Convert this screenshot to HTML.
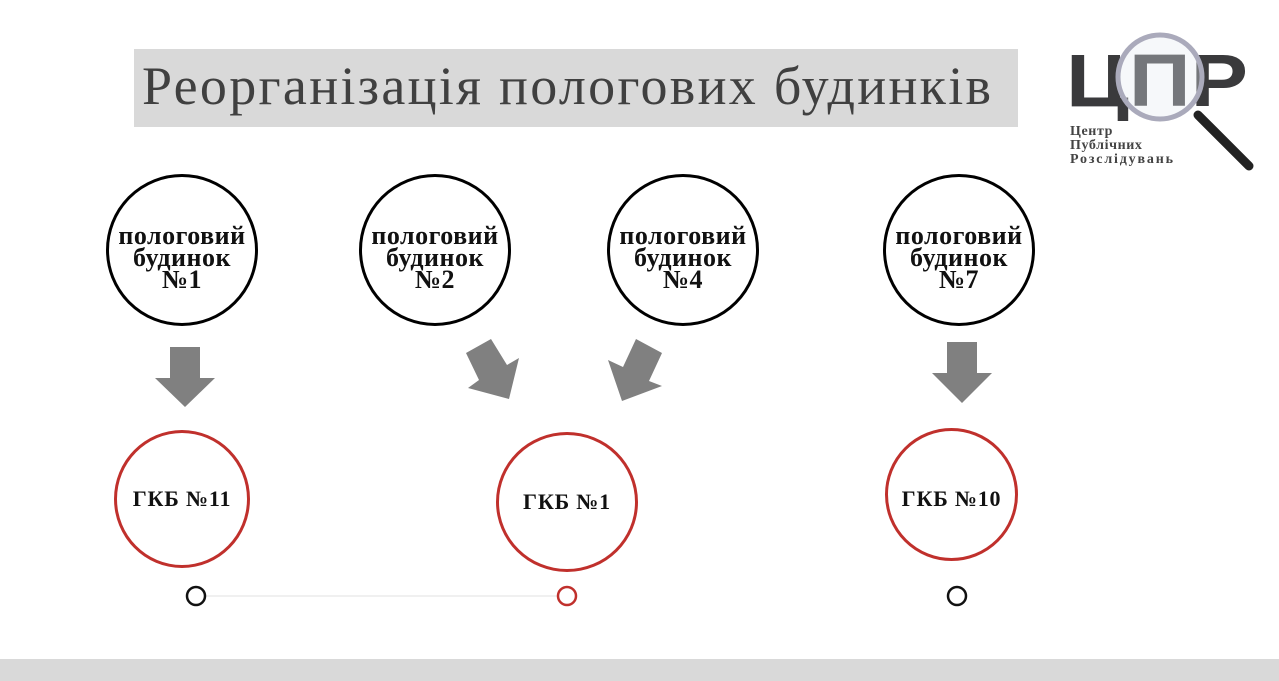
<!DOCTYPE html>
<html><head><meta charset="utf-8"><style>
body{margin:0;width:1279px;height:681px;background:#fff;position:relative;overflow:hidden;font-family:"Liberation Serif",serif}
.t{position:absolute;left:134px;top:49px;width:884px;height:78px;background:#d9d9d9}
.t span{position:absolute;left:8px;top:6px;font-size:54px;color:#404040;white-space:nowrap;letter-spacing:2.3px}
.c{position:absolute;border-radius:50%;box-sizing:border-box;display:flex;align-items:center;justify-content:center;text-align:center;font-weight:bold;color:#111}
.b{border:3px solid #000;width:152px;height:152px;font-size:26px;line-height:22px;letter-spacing:0.5px;padding-top:16px}
.r{border:3px solid #c0302c;font-size:22px;letter-spacing:0.8px}
.bot{position:absolute;left:0;top:659px;width:1279px;height:22px;background:#d9d9d9}
</style></head><body>
<div class="t"><span>Реорганізація пологових будинків</span></div>
<div class="c b" style="left:106px;top:174px">пологовий<br>будинок<br>№1</div>
<div class="c b" style="left:359px;top:174px">пологовий<br>будинок<br>№2</div>
<div class="c b" style="left:607px;top:174px">пологовий<br>будинок<br>№4</div>
<div class="c b" style="left:883px;top:174px">пологовий<br>будинок<br>№7</div>
<div class="c r" style="left:114px;top:430px;width:136px;height:138px">ГКБ №11</div>
<div class="c r" style="left:496px;top:432px;width:142px;height:140px">ГКБ №1</div>
<div class="c r" style="left:885px;top:428px;width:133px;height:133px;padding-top:8px">ГКБ №10</div>
<svg width="1279" height="681" style="position:absolute;left:0;top:0">
<g fill="#808080">
<polygon points="170,347 200,347 200,378 215,378 185,407 155,378 170,378"/>
<polygon points="947,342 977,342 977,373 992,373 962,403 932,373 947,373"/>
<polygon points="466,353 491,339 507,365 519,358 509,399 468,388 479,380"/>
<polygon points="662,353 636,339 623,367 608,360 622,401 662,386 649,381"/>
</g>
<line x1="205" y1="596" x2="558" y2="596" stroke="#e0e0e0" stroke-width="1"/>
<circle cx="196" cy="596" r="9" fill="#fff" stroke="#111" stroke-width="2.5"/>
<circle cx="567" cy="596" r="9" fill="#fff" stroke="#c0302c" stroke-width="2.5"/>
<circle cx="957" cy="596" r="9" fill="#fff" stroke="#111" stroke-width="2.5"/>
<g>
<text x="1066" y="106" font-family="Liberation Sans,sans-serif" font-weight="bold" font-size="74" fill="#3a3a3c" textLength="182" lengthAdjust="spacingAndGlyphs">ЦПР</text>
<text x="1070" y="135" font-family="Liberation Serif,serif" font-weight="bold" font-size="14" fill="#444" letter-spacing="0.6">Центр</text>
<text x="1070" y="149" font-family="Liberation Serif,serif" font-weight="bold" font-size="14" fill="#444" letter-spacing="0.6">Публічних</text>
<text x="1070" y="163" font-family="Liberation Serif,serif" font-weight="bold" font-size="14" fill="#444" textLength="103">Розслідувань</text>
<line x1="1198" y1="115" x2="1249" y2="166" stroke="#222" stroke-width="9" stroke-linecap="round"/>
<circle cx="1160" cy="77" r="42" fill="rgba(230,235,240,0.35)" stroke="#aab" stroke-width="5"/>
</g>
</svg>
<div class="bot"></div>
</body></html>
